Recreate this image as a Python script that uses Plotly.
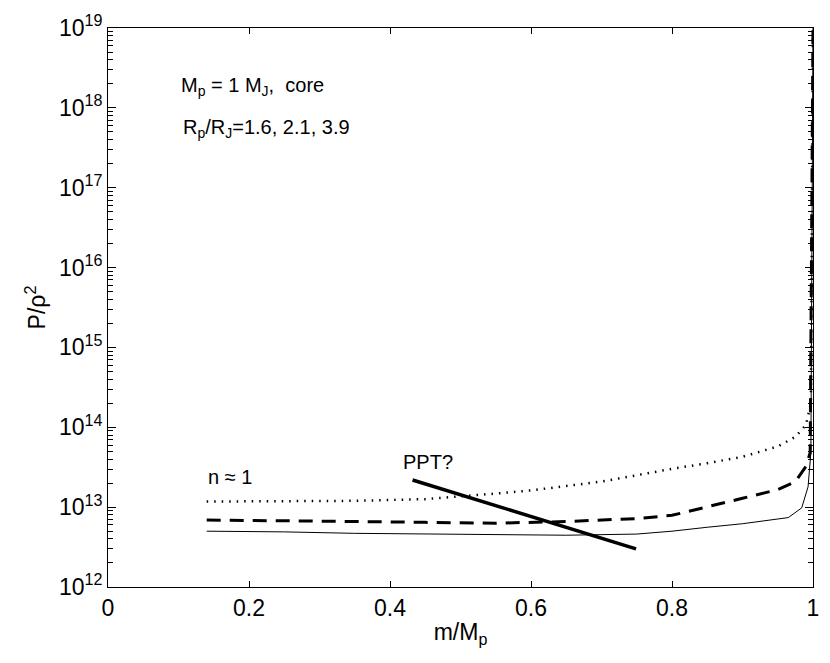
import plotly.graph_objects as go

#
#   valores
#
x_pontilhada = [0.14, 0.25, 0.35, 0.45, 0.50, 0.55, 0.60, 0.65, 0.70, 0.75,
                0.80, 0.85, 0.90, 0.95, 0.975, 0.99, 0.997, 1.0]
y_pontilhada = [1.175e13, 1.175e13, 1.20e13, 1.26e13, 1.38e13, 1.48e13, 1.62e13,
                1.82e13, 2.09e13, 2.51e13, 3.02e13, 3.55e13, 4.27e13, 5.75e13,
                7.59e13, 1.07e14, 2.0e14, 1e19]

x_tracejada = [0.14, 0.25, 0.35, 0.45, 0.55, 0.65, 0.75, 0.80, 0.85, 0.90,
               0.95, 0.975, 0.99, 0.996, 1.0]
y_tracejada = [6.9e12, 6.8e12, 6.6e12, 6.45e12, 6.3e12, 6.6e12, 7.2e12, 7.9e12,
               1.02e13, 1.29e13, 1.66e13, 2.09e13, 3.24e13, 4.8e13, 1e19]

x_solida = [0.14, 0.25, 0.35, 0.45, 0.55, 0.65, 0.75, 0.80, 0.85, 0.90,
            0.965, 0.984, 0.993, 0.997, 1.0]
y_solida = [5.0e12, 4.9e12, 4.7e12, 4.6e12, 4.45e12, 4.45e12, 4.6e12, 5.0e12,
            5.6e12, 6.2e12, 7.4e12, 9.8e12, 1.8e13, 4.8e13, 1e19]

x_ppt = [0.432, 0.749]
y_ppt = [2.19e13, 3.0e12]

expoentes = [12, 13, 14, 15, 16, 17, 18, 19]
rotulos_y = ['10<sup>%d</sup>' % e for e in expoentes]
mantissas = [2, 3, 4, 5, 6, 7, 8, 9]

fonte = 'Liberation Sans, Arial, sans-serif'

fig = go.Figure()

fig.add_trace(go.Scatter(x=x_solida, y=y_solida, mode='lines', name='R=1.6',
                         line=dict(color='black', width=1)))
fig.add_trace(go.Scatter(x=x_tracejada, y=y_tracejada, mode='lines', name='R=2.1',
                         line=dict(color='black', width=3, dash='14px,9px')))
fig.add_trace(go.Scatter(x=x_pontilhada, y=y_pontilhada, mode='lines', name='R=3.9',
                         line=dict(color='black', width=2.5, dash='1.5px,6px')))
fig.add_trace(go.Scatter(x=x_ppt, y=y_ppt, mode='lines', name='PPT',
                         line=dict(color='black', width=3.5)))

# textos dentro do grafico
textos = [
    (0.100, 0.896, 'M<sub>p</sub> = 1 M<sub>J</sub>,  core', 20),
    (0.103, 0.821, 'R<sub>p</sub>/R<sub>J</sub>=1.6, 2.1, 3.9', 20),
    (0.139, 0.197, 'n ≈ 1', 20),
    (0.415, 0.224, 'PPT?', 20),
]
for tx, ty, texto, tam in textos:
    fig.add_annotation(x=tx, y=ty, xref='paper', yref='paper', text=texto,
                       showarrow=False, xanchor='left', yanchor='middle',
                       font=dict(size=tam, color='black', family=fonte))

minor_y = [m * 10 ** e for e in expoentes[:-1] for m in mantissas]

fig.update_layout(
    width=830, height=663,
    margin=dict(l=108, r=11, t=28, b=76),
    paper_bgcolor='white', plot_bgcolor='white',
    showlegend=False,
    font=dict(family=fonte, size=23, color='black'),
    xaxis=dict(
        range=[0, 1], tickvals=[0, 0.2, 0.4, 0.6, 0.8, 1],
        ticktext=['0', '0.2', '0.4', '0.6', '0.8', '1'],
        ticks='inside', ticklen=6, tickcolor='black', ticklabeloverflow='allow',
        showline=True, linecolor='black', linewidth=1, mirror='allticks',
        showgrid=False, zeroline=False,
        title=dict(text='m/M<sub>p</sub>', standoff=4, font=dict(size=23)),
    ),
    yaxis=dict(
        type='log', range=[12, 19],
        tickvals=[10 ** e for e in expoentes], ticktext=rotulos_y,
        ticks='inside', ticklen=8, tickcolor='black',
        minor=dict(tickmode='array', tickvals=minor_y, ticks='inside',
                   ticklen=5, tickcolor='black', showgrid=False),
        showline=True, linecolor='black', linewidth=1, mirror='allticks',
        showgrid=False, zeroline=False,
        title=dict(text='P/ρ<sup>2</sup>', standoff=6, font=dict(size=23)),
    ),
)

fig.write_html('out.html', config={'displayModeBar': False},
               post_script="document.body.style.margin='0';")
